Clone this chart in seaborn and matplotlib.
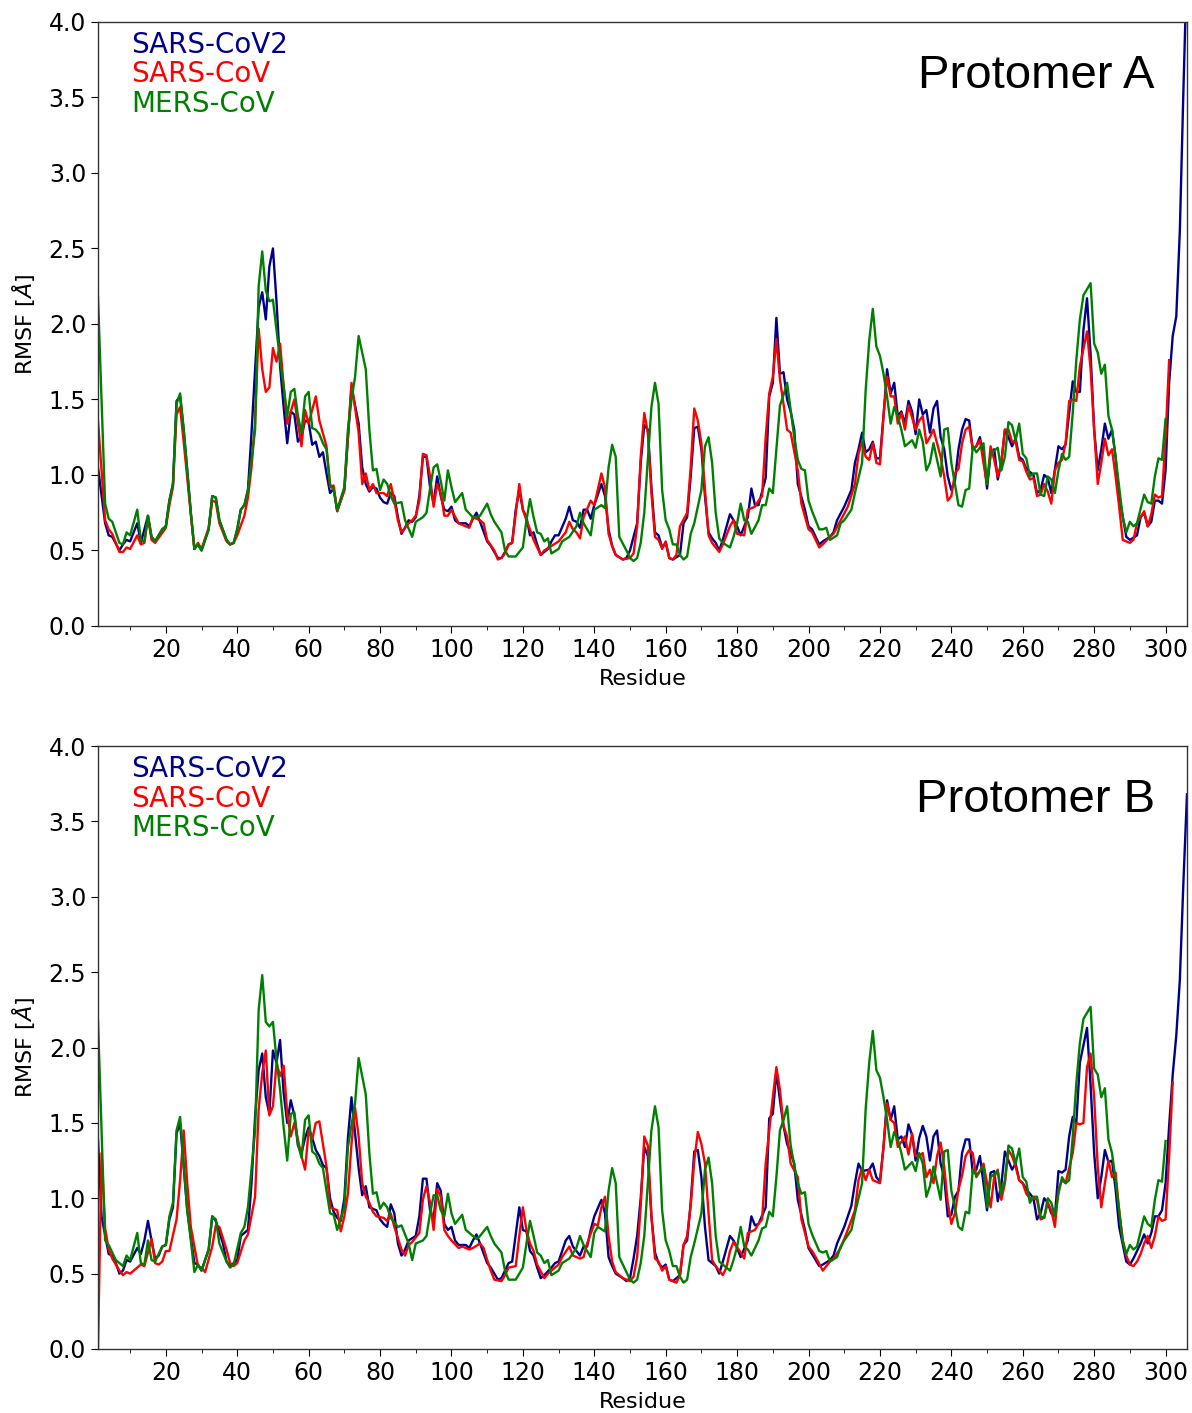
import matplotlib
matplotlib.use("Agg")
import matplotlib.pyplot as plt
import seaborn as sns
import pandas as pd
from matplotlib.ticker import MultipleLocator

SERIES = ["SARS-CoV2", "SARS-CoV", "MERS-CoV"]
COLORS = {"SARS-CoV2": "darkblue", "SARS-CoV": "red", "MERS-CoV": "green"}
PANEL_TITLES = ["Protomer A", "Protomer B"]
X_LABEL = "Residue"
Y_LABEL = r"RMSF [$\AA$]"
Y_TICKS = [0.0, 0.5, 1.0, 1.5, 2.0, 2.5, 3.0, 3.5, 4.0]

# ---- Protomer A : (residue, RMSF) ----
A_SARS_CoV2 = [(1,1.05),(3,0.68),(4,0.60),(5,0.59),(7,0.50),(8,0.54),(9,0.57),(10,0.56),(12,0.68),(13,0.55),(15,0.73),(16,0.59),(17,0.56),(19,0.64),(20,0.66),(21,0.83),(22,0.94),(23,1.49),(24,1.52),(25,1.30),(26,1.03),(27,0.75),(28,0.51),(29,0.54),(30,0.50),(32,0.64),(33,0.86),(34,0.85),(35,0.70),(37,0.57),(38,0.54),(39,0.55),(40,0.64),(41,0.77),(42,0.80),(43,0.90),(44,1.28),(46,2.11),(47,2.21),(48,2.03),(49,2.38),(50,2.50),(51,2.15),(52,1.72),(53,1.45),(54,1.21),(55,1.42),(56,1.40),(57,1.22),(58,1.26),(59,1.36),(60,1.35),(61,1.20),(62,1.22),(63,1.12),(64,1.15),(65,1.01),(66,0.88),(67,0.91),(68,0.76),(70,0.90),(72,1.58),(74,1.34),(75,1.05),(76,0.94),(77,0.89),(78,0.92),(79,0.91),(80,0.85),(81,0.82),(82,0.81),(83,0.88),(84,0.86),(85,0.72),(86,0.61),(87,0.65),(88,0.70),(89,0.69),(90,0.72),(91,0.86),(92,1.12),(93,1.12),(94,0.92),(95,0.81),(96,0.99),(97,0.86),(98,0.77),(99,0.76),(100,0.79),(101,0.70),(102,0.68),(104,0.68),(105,0.66),(106,0.71),(107,0.75),(108,0.69),(110,0.56),(111,0.53),(113,0.45),(114,0.45),(115,0.49),(116,0.54),(117,0.55),(118,0.77),(119,0.90),(120,0.77),(121,0.72),(122,0.60),(123,0.62),(124,0.54),(125,0.47),(127,0.51),(128,0.56),(129,0.60),(130,0.60),(132,0.71),(133,0.79),(134,0.70),(135,0.69),(136,0.65),(137,0.77),(138,0.77),(139,0.71),(140,0.80),(142,0.94),(143,0.86),(144,0.64),(145,0.53),(146,0.47),(148,0.44),(149,0.45),(150,0.50),(152,0.68),(153,1.08),(154,1.33),(155,1.30),(156,0.92),(157,0.62),(158,0.60),(159,0.52),(160,0.55),(161,0.45),(162,0.44),(164,0.47),(165,0.68),(166,0.72),(167,0.99),(168,1.31),(169,1.32),(170,1.17),(171,0.86),(172,0.62),(173,0.58),(174,0.55),(175,0.50),(176,0.57),(178,0.74),(179,0.70),(180,0.66),(181,0.60),(183,0.72),(184,0.91),(185,0.80),(186,0.80),(188,0.98),(189,1.52),(190,1.61),(191,2.04),(192,1.67),(193,1.68),(194,1.50),(195,1.42),(196,1.30),(197,0.94),(199,0.77),(200,0.66),(201,0.64),(203,0.54),(204,0.56),(206,0.59),(207,0.62),(208,0.70),(210,0.79),(212,0.90),(213,1.08),(214,1.17),(215,1.28),(216,1.15),(217,1.17),(218,1.22),(219,1.11),(220,1.11),(221,1.39),(222,1.70),(223,1.54),(224,1.61),(225,1.39),(226,1.42),(227,1.34),(228,1.49),(229,1.42),(230,1.27),(231,1.50),(232,1.40),(233,1.43),(234,1.28),(235,1.44),(236,1.49),(237,1.25),(238,1.17),(239,0.99),(240,0.90),(241,0.96),(242,1.17),(243,1.30),(244,1.37),(245,1.36),(246,1.17),(247,1.19),(248,1.25),(249,1.12),(250,0.91),(251,1.14),(252,1.17),(253,0.97),(254,1.08),(255,1.30),(256,1.25),(257,1.19),(258,1.24),(259,1.12),(260,1.10),(261,1.04),(262,1.02),(263,1.00),(264,0.88),(265,0.90),(266,1.00),(267,0.98),(268,0.88),(270,1.19),(271,1.17),(272,1.20),(273,1.41),(274,1.62),(275,1.55),(276,1.55),(277,1.96),(278,2.17),(279,1.80),(280,1.30),(281,1.03),(282,1.17),(283,1.34),(284,1.24),(285,1.30),(286,1.12),(287,0.86),(289,0.59),(290,0.57),(292,0.60),(293,0.72),(294,0.75),(295,0.66),(296,0.69),(297,0.83),(298,0.83),(299,0.81),(300,1.03),(301,1.61),(302,1.92),(303,2.05),(304,2.62),(305,3.55),(306,4.40)]

A_SARS_CoV = [(1,1.36),(3,0.70),(4,0.64),(5,0.61),(7,0.49),(8,0.49),(9,0.52),(10,0.51),(12,0.60),(13,0.54),(14,0.55),(15,0.72),(16,0.57),(17,0.55),(20,0.65),(21,0.80),(22,0.92),(23,1.40),(24,1.45),(25,1.22),(26,0.98),(27,0.74),(28,0.51),(29,0.55),(30,0.51),(32,0.65),(33,0.83),(34,0.82),(35,0.68),(37,0.56),(38,0.54),(39,0.55),(40,0.60),(42,0.73),(43,0.85),(44,1.05),(45,1.35),(46,1.97),(47,1.70),(48,1.55),(49,1.58),(50,1.84),(51,1.75),(52,1.87),(53,1.59),(54,1.34),(56,1.50),(57,1.34),(58,1.19),(59,1.43),(60,1.34),(62,1.52),(63,1.36),(65,1.19),(66,0.92),(67,0.93),(68,0.76),(70,0.90),(72,1.61),(74,1.28),(75,0.94),(76,1.01),(77,0.90),(78,0.94),(79,0.88),(81,0.88),(82,0.86),(83,0.94),(84,0.83),(85,0.70),(86,0.62),(88,0.68),(89,0.70),(90,0.73),(91,0.83),(92,1.14),(93,1.13),(94,0.99),(95,0.79),(96,0.94),(97,0.88),(98,0.73),(99,0.73),(100,0.77),(102,0.68),(103,0.67),(104,0.66),(105,0.65),(106,0.72),(108,0.70),(109,0.68),(110,0.57),(112,0.50),(113,0.44),(114,0.45),(115,0.48),(116,0.54),(117,0.55),(119,0.94),(120,0.77),(121,0.70),(122,0.64),(123,0.57),(125,0.47),(126,0.50),(128,0.53),(130,0.56),(132,0.62),(133,0.69),(134,0.64),(135,0.62),(136,0.58),(137,0.72),(139,0.83),(140,0.80),(142,1.01),(143,0.92),(144,0.61),(145,0.53),(146,0.47),(148,0.44),(150,0.45),(151,0.48),(152,0.66),(153,1.12),(154,1.41),(155,1.28),(156,0.88),(157,0.59),(158,0.57),(159,0.51),(160,0.56),(161,0.45),(162,0.44),(163,0.47),(164,0.66),(166,0.75),(167,1.05),(168,1.44),(169,1.36),(170,1.21),(171,0.90),(172,0.60),(173,0.55),(175,0.49),(176,0.54),(178,0.66),(179,0.70),(180,0.61),(182,0.60),(183,0.77),(185,0.79),(186,0.83),(187,0.86),(188,1.25),(189,1.54),(190,1.65),(191,1.90),(192,1.63),(193,1.47),(194,1.30),(195,1.28),(197,1.03),(198,0.81),(200,0.64),(201,0.62),(203,0.52),(204,0.54),(206,0.59),(207,0.61),(209,0.70),(211,0.79),(213,0.94),(214,1.14),(215,1.22),(216,1.12),(217,1.10),(218,1.21),(219,1.08),(220,1.07),(221,1.39),(222,1.65),(223,1.52),(224,1.52),(225,1.34),(226,1.41),(227,1.30),(228,1.46),(230,1.30),(231,1.36),(232,1.39),(233,1.21),(234,1.25),(235,1.30),(236,1.21),(237,1.12),(238,0.99),(239,0.83),(240,0.86),(241,1.01),(242,1.04),(243,1.21),(244,1.30),(245,1.32),(246,1.17),(247,1.19),(248,1.23),(249,1.08),(250,0.94),(251,1.19),(252,1.10),(253,0.99),(254,1.08),(255,1.30),(256,1.30),(257,1.22),(258,1.22),(259,1.10),(260,1.09),(261,1.02),(262,0.97),(263,0.98),(264,0.86),(265,0.87),(266,0.94),(267,0.89),(268,0.81),(269,1.03),(270,1.08),(271,1.10),(272,1.21),(273,1.49),(274,1.50),(275,1.49),(276,1.72),(278,1.95),(279,1.70),(280,1.30),(281,0.94),(282,1.08),(283,1.24),(284,1.13),(285,1.17),(286,0.99),(287,0.79),(288,0.57),(290,0.55),(291,0.57),(292,0.68),(294,0.76),(295,0.66),(296,0.74),(297,0.87),(298,0.85),(299,0.86),(300,1.25),(301,1.76)]

A_MERS_CoV = [(1,2.18),(3,0.81),(4,0.71),(5,0.69),(7,0.55),(8,0.54),(9,0.62),(10,0.60),(12,0.77),(13,0.57),(14,0.56),(15,0.73),(16,0.59),(17,0.56),(19,0.64),(20,0.66),(21,0.83),(22,0.94),(23,1.47),(24,1.54),(25,1.30),(26,1.03),(27,0.75),(28,0.51),(29,0.54),(30,0.50),(32,0.64),(33,0.86),(34,0.85),(35,0.70),(37,0.57),(38,0.54),(39,0.55),(40,0.64),(41,0.77),(42,0.80),(43,0.90),(45,1.30),(46,2.25),(47,2.48),(48,2.22),(49,2.15),(50,2.16),(51,1.96),(52,1.76),(53,1.59),(54,1.39),(55,1.55),(56,1.57),(57,1.39),(58,1.28),(59,1.52),(60,1.55),(61,1.31),(62,1.30),(63,1.27),(64,1.21),(65,1.17),(66,0.94),(67,0.90),(68,0.77),(70,0.92),(71,1.30),(72,1.50),(73,1.65),(74,1.92),(76,1.70),(77,1.30),(78,1.03),(79,1.04),(80,0.90),(81,0.97),(82,0.94),(83,0.86),(84,0.81),(86,0.82),(87,0.70),(89,0.59),(90,0.69),(92,0.72),(93,0.75),(94,0.91),(95,1.05),(96,1.07),(97,0.96),(98,0.83),(99,1.03),(100,0.92),(101,0.82),(102,0.85),(103,0.88),(104,0.77),(106,0.72),(107,0.72),(108,0.73),(110,0.81),(111,0.74),(112,0.69),(114,0.62),(115,0.50),(116,0.46),(118,0.46),(120,0.52),(121,0.70),(122,0.84),(123,0.72),(124,0.62),(125,0.61),(126,0.56),(127,0.58),(128,0.48),(130,0.51),(131,0.56),(133,0.59),(135,0.66),(136,0.75),(137,0.68),(139,0.60),(140,0.77),(142,0.80),(143,0.78),(144,1.05),(145,1.20),(146,1.12),(147,0.59),(149,0.50),(150,0.45),(151,0.43),(152,0.45),(153,0.55),(154,0.75),(156,1.45),(157,1.61),(158,1.47),(159,0.90),(160,0.70),(161,0.64),(162,0.54),(163,0.54),(164,0.47),(165,0.44),(166,0.46),(167,0.61),(168,0.68),(170,0.90),(171,1.19),(172,1.25),(173,1.08),(174,0.75),(175,0.58),(176,0.55),(178,0.52),(179,0.59),(180,0.68),(181,0.81),(182,0.70),(183,0.69),(184,0.61),(186,0.70),(187,0.80),(188,0.80),(189,0.91),(190,0.88),(191,1.17),(192,1.46),(193,1.53),(194,1.61),(195,1.43),(196,1.25),(197,1.10),(198,1.04),(199,1.03),(200,0.83),(201,0.76),(203,0.64),(204,0.64),(205,0.65),(206,0.57),(208,0.60),(209,0.68),(210,0.70),(212,0.77),(213,0.88),(215,1.08),(216,1.56),(217,1.89),(218,2.10),(219,1.85),(220,1.79),(221,1.67),(222,1.52),(223,1.34),(224,1.45),(225,1.39),(226,1.30),(227,1.19),(229,1.23),(230,1.18),(231,1.30),(232,1.22),(233,1.03),(234,1.08),(235,1.21),(236,1.10),(237,0.99),(238,1.30),(239,1.31),(240,1.08),(241,0.94),(242,0.80),(243,0.79),(244,0.90),(245,0.91),(246,1.19),(247,1.15),(249,1.21),(250,0.94),(251,1.14),(253,1.18),(254,1.03),(255,1.12),(256,1.35),(257,1.33),(258,1.23),(259,1.34),(260,1.14),(261,1.11),(262,0.99),(263,1.01),(264,1.01),(265,0.87),(266,0.86),(267,0.99),(268,0.97),(269,0.88),(270,1.03),(271,1.14),(272,1.10),(273,1.12),(274,1.41),(275,1.76),(276,2.03),(277,2.19),(279,2.27),(280,1.87),(281,1.81),(282,1.67),(283,1.73),(284,1.39),(285,1.30),(286,1.12),(287,0.92),(288,0.72),(289,0.62),(290,0.69),(291,0.66),(292,0.68),(294,0.87),(295,0.82),(296,0.81),(297,0.99),(298,1.11),(299,1.10),(300,1.37)]

# ---- Protomer B : (residue, RMSF) ----
B_SARS_CoV2 = [(1,1.39),(2,0.88),(4,0.63),(5,0.62),(6,0.57),(7,0.50),(8,0.52),(9,0.59),(10,0.58),(12,0.67),(13,0.63),(14,0.72),(15,0.85),(16,0.72),(17,0.60),(18,0.62),(19,0.68),(20,0.69),(21,0.86),(22,0.94),(23,1.43),(24,1.50),(25,1.21),(26,0.92),(28,0.57),(29,0.56),(30,0.52),(32,0.66),(33,0.88),(34,0.85),(36,0.70),(37,0.58),(38,0.55),(40,0.59),(41,0.75),(43,0.79),(44,1.10),(45,1.54),(46,1.85),(47,1.96),(48,1.67),(49,1.56),(50,1.98),(51,1.90),(52,2.05),(53,1.70),(54,1.50),(55,1.65),(56,1.55),(57,1.35),(58,1.30),(59,1.40),(60,1.47),(61,1.40),(62,1.32),(63,1.28),(64,1.22),(65,1.20),(66,1.00),(67,0.91),(68,0.87),(69,0.85),(70,1.00),(71,1.40),(72,1.67),(73,1.43),(74,1.20),(75,1.02),(76,1.08),(77,0.94),(78,0.93),(79,0.92),(80,0.86),(81,0.83),(82,0.81),(83,0.96),(84,0.90),(85,0.70),(86,0.62),(87,0.66),(88,0.72),(90,0.75),(91,0.88),(92,1.13),(93,1.13),(94,0.92),(95,0.86),(96,1.10),(97,1.05),(98,0.83),(99,0.79),(100,0.81),(101,0.72),(102,0.69),(104,0.69),(105,0.67),(106,0.72),(107,0.76),(108,0.70),(110,0.57),(111,0.54),(113,0.46),(114,0.47),(115,0.52),(116,0.57),(117,0.58),(119,0.94),(120,0.79),(121,0.78),(122,0.65),(123,0.62),(124,0.54),(125,0.47),(126,0.49),(128,0.54),(129,0.57),(130,0.58),(132,0.72),(133,0.75),(134,0.68),(135,0.65),(136,0.62),(137,0.68),(138,0.68),(139,0.79),(140,0.88),(142,0.99),(143,0.90),(144,0.61),(145,0.55),(146,0.50),(148,0.47),(149,0.45),(150,0.47),(151,0.60),(152,0.75),(153,1.00),(154,1.34),(155,1.28),(156,0.88),(157,0.64),(158,0.57),(159,0.54),(160,0.56),(161,0.46),(162,0.45),(164,0.49),(165,0.69),(166,0.72),(167,0.97),(168,1.31),(169,1.32),(170,1.14),(171,0.81),(172,0.59),(173,0.57),(174,0.55),(175,0.50),(176,0.58),(178,0.75),(179,0.72),(180,0.67),(181,0.61),(183,0.72),(184,0.88),(185,0.82),(186,0.83),(188,0.94),(189,1.53),(190,1.56),(191,1.84),(192,1.65),(193,1.48),(194,1.36),(195,1.30),(196,1.23),(197,0.99),(199,0.79),(200,0.67),(201,0.63),(203,0.55),(204,0.56),(206,0.59),(207,0.62),(208,0.70),(210,0.81),(212,0.95),(213,1.10),(214,1.23),(215,1.18),(217,1.19),(218,1.23),(219,1.14),(220,1.11),(221,1.34),(222,1.65),(223,1.52),(224,1.61),(225,1.39),(226,1.41),(227,1.34),(228,1.49),(229,1.42),(230,1.25),(231,1.40),(232,1.48),(233,1.41),(234,1.25),(235,1.41),(236,1.45),(237,1.23),(238,1.14),(239,0.88),(240,0.89),(241,1.01),(242,1.05),(243,1.30),(244,1.39),(245,1.39),(246,1.17),(247,1.19),(248,1.28),(249,1.10),(250,0.92),(251,1.17),(252,1.18),(253,0.98),(254,1.09),(255,1.31),(256,1.25),(257,1.19),(258,1.23),(259,1.12),(260,1.10),(261,1.06),(262,1.03),(263,1.00),(264,0.86),(265,0.90),(266,1.00),(267,0.97),(268,0.90),(269,0.88),(270,1.18),(271,1.17),(272,1.19),(273,1.41),(274,1.54),(275,1.50),(276,1.90),(278,2.13),(279,1.75),(280,1.30),(281,1.00),(282,1.14),(283,1.32),(284,1.24),(285,1.25),(286,1.06),(287,0.81),(289,0.58),(290,0.56),(291,0.60),(293,0.70),(294,0.76),(295,0.70),(296,0.77),(297,0.88),(298,0.88),(299,0.92),(300,1.10),(301,1.48),(302,1.82),(303,2.08),(304,2.45),(305,3.10),(306,3.68)]

B_SARS_CoV = [(1,0.00),(2,1.30),(3,0.80),(4,0.66),(5,0.60),(7,0.52),(8,0.49),(9,0.51),(10,0.50),(12,0.54),(13,0.56),(14,0.55),(16,0.73),(17,0.57),(18,0.56),(19,0.58),(20,0.65),(21,0.65),(23,0.86),(24,1.12),(25,1.45),(26,1.10),(27,0.81),(29,0.55),(30,0.54),(31,0.51),(33,0.68),(34,0.82),(35,0.81),(37,0.66),(38,0.57),(39,0.55),(40,0.57),(42,0.72),(43,0.76),(45,1.01),(46,1.59),(47,1.83),(48,1.98),(49,1.55),(50,1.61),(51,1.90),(52,1.81),(53,1.88),(54,1.56),(55,1.41),(56,1.50),(58,1.28),(59,1.19),(60,1.45),(61,1.39),(62,1.50),(63,1.51),(64,1.36),(65,1.21),(66,0.94),(68,0.92),(69,0.78),(70,0.88),(71,1.03),(72,1.36),(73,1.60),(74,1.41),(75,1.10),(76,1.01),(77,0.97),(78,0.91),(79,0.88),(81,0.87),(82,0.85),(83,0.90),(84,0.81),(86,0.66),(87,0.62),(88,0.69),(89,0.71),(91,0.77),(92,0.99),(93,1.08),(94,0.97),(95,0.79),(96,1.06),(97,1.01),(98,0.79),(99,0.75),(100,0.72),(102,0.67),(103,0.68),(105,0.66),(106,0.67),(108,0.70),(109,0.67),(110,0.59),(111,0.52),(112,0.46),(114,0.45),(115,0.49),(116,0.54),(118,0.55),(119,0.75),(120,0.94),(121,0.79),(122,0.70),(123,0.65),(124,0.56),(126,0.47),(127,0.50),(129,0.54),(130,0.56),(131,0.61),(133,0.68),(134,0.62),(136,0.60),(137,0.61),(138,0.70),(140,0.83),(141,0.82),(142,0.94),(143,1.01),(144,0.75),(145,0.58),(146,0.51),(148,0.47),(150,0.45),(151,0.48),(152,0.61),(153,0.95),(154,1.41),(155,1.35),(156,0.88),(157,0.60),(158,0.58),(159,0.52),(160,0.55),(161,0.46),(163,0.44),(164,0.49),(165,0.69),(166,0.75),(167,0.95),(168,1.25),(169,1.44),(170,1.36),(171,1.23),(172,0.90),(173,0.59),(174,0.55),(176,0.49),(177,0.54),(178,0.65),(179,0.71),(181,0.64),(182,0.60),(183,0.77),(185,0.79),(186,0.83),(187,0.86),(188,1.23),(189,1.45),(190,1.67),(191,1.87),(192,1.72),(193,1.48),(194,1.41),(195,1.23),(197,1.14),(198,0.86),(200,0.68),(201,0.65),(202,0.61),(204,0.52),(206,0.58),(207,0.60),(209,0.67),(211,0.79),(213,0.92),(214,1.12),(215,1.20),(216,1.12),(217,1.19),(218,1.12),(220,1.10),(221,1.34),(222,1.63),(223,1.52),(224,1.50),(225,1.34),(227,1.41),(228,1.29),(229,1.43),(230,1.28),(231,1.28),(232,1.30),(233,1.14),(234,1.19),(235,1.10),(236,1.28),(237,1.37),(238,1.21),(239,0.97),(240,0.83),(241,0.90),(242,1.06),(243,1.15),(244,1.28),(245,1.32),(246,1.30),(247,1.14),(248,1.18),(249,1.23),(250,1.10),(251,0.94),(252,1.14),(253,1.19),(254,0.99),(255,1.10),(256,1.32),(257,1.28),(258,1.21),(259,1.12),(260,1.10),(261,1.03),(262,1.00),(263,1.00),(264,0.99),(265,0.86),(266,0.87),(267,0.97),(268,0.92),(269,0.81),(270,1.06),(271,1.12),(272,1.10),(274,1.30),(275,1.50),(276,1.49),(277,1.50),(278,1.87),(279,1.96),(280,1.67),(281,1.21),(282,0.94),(283,1.10),(284,1.25),(285,1.14),(286,1.17),(287,0.92),(288,0.72),(289,0.62),(290,0.56),(291,0.55),(292,0.58),(293,0.63),(294,0.70),(295,0.75),(296,0.67),(297,0.75),(298,0.88),(299,0.85),(300,0.86),(301,1.28),(302,1.77)]

B_MERS_CoV = [(1,2.18),(3,0.72),(4,0.69),(6,0.59),(8,0.55),(9,0.62),(10,0.59),(12,0.77),(13,0.57),(14,0.56),(15,0.72),(16,0.59),(17,0.58),(19,0.68),(20,0.69),(21,0.88),(22,0.97),(23,1.45),(24,1.54),(25,1.23),(26,0.92),(27,0.72),(28,0.51),(29,0.56),(30,0.52),(32,0.66),(33,0.88),(34,0.86),(35,0.70),(37,0.58),(38,0.54),(39,0.56),(41,0.77),(42,0.81),(43,0.94),(45,1.45),(46,2.25),(47,2.48),(48,2.17),(49,2.14),(50,2.17),(51,1.92),(52,1.72),(53,1.47),(54,1.25),(55,1.56),(56,1.57),(57,1.36),(58,1.27),(59,1.52),(60,1.55),(61,1.31),(62,1.29),(63,1.23),(64,1.20),(65,1.05),(66,0.90),(67,0.89),(68,0.79),(70,0.94),(71,1.34),(73,1.63),(74,1.93),(76,1.69),(77,1.30),(78,1.03),(79,1.04),(80,0.93),(81,0.97),(82,0.94),(83,0.87),(85,0.81),(86,0.82),(88,0.70),(89,0.59),(90,0.70),(92,0.72),(93,0.75),(94,0.90),(95,1.02),(96,1.02),(97,0.92),(98,0.88),(99,1.03),(100,0.90),(101,0.83),(102,0.86),(103,0.89),(104,0.79),(106,0.75),(107,0.73),(108,0.75),(110,0.81),(111,0.75),(112,0.70),(114,0.64),(115,0.52),(116,0.46),(118,0.46),(120,0.54),(121,0.70),(122,0.85),(123,0.75),(124,0.64),(125,0.62),(126,0.57),(127,0.59),(128,0.49),(130,0.52),(131,0.57),(133,0.60),(135,0.67),(136,0.75),(137,0.69),(139,0.61),(140,0.77),(141,0.81),(143,0.78),(144,1.05),(145,1.20),(146,1.10),(147,0.61),(149,0.51),(150,0.46),(151,0.44),(152,0.46),(153,0.57),(154,0.75),(156,1.45),(157,1.61),(158,1.47),(159,0.92),(160,0.72),(161,0.65),(162,0.55),(163,0.55),(164,0.48),(165,0.44),(166,0.46),(167,0.61),(168,0.70),(170,0.90),(171,1.19),(172,1.27),(173,1.10),(174,0.75),(175,0.58),(176,0.56),(178,0.52),(179,0.59),(180,0.68),(181,0.81),(182,0.68),(183,0.66),(184,0.62),(186,0.72),(187,0.80),(188,0.81),(189,0.91),(190,0.88),(191,1.14),(192,1.45),(193,1.52),(194,1.61),(195,1.35),(196,1.22),(197,1.10),(198,1.03),(199,1.04),(200,0.83),(201,0.76),(203,0.65),(204,0.64),(205,0.65),(206,0.58),(208,0.61),(209,0.68),(210,0.72),(212,0.79),(213,0.90),(215,1.10),(216,1.59),(217,1.90),(218,2.11),(219,1.85),(220,1.80),(221,1.67),(222,1.52),(223,1.34),(224,1.44),(225,1.39),(226,1.30),(227,1.19),(229,1.24),(230,1.18),(231,1.30),(232,1.23),(233,1.01),(234,1.08),(235,1.21),(236,1.10),(237,0.99),(238,1.31),(239,1.32),(240,1.05),(241,0.94),(242,0.81),(243,0.79),(244,0.91),(245,0.90),(246,1.19),(247,1.15),(249,1.21),(250,0.94),(251,1.14),(253,1.18),(254,1.03),(255,1.12),(256,1.35),(257,1.33),(258,1.23),(259,1.33),(260,1.14),(261,1.11),(262,0.97),(263,1.01),(264,1.01),(265,0.88),(266,0.87),(267,1.00),(268,0.97),(269,0.88),(270,1.03),(271,1.14),(272,1.10),(273,1.12),(274,1.41),(275,1.76),(276,2.03),(277,2.19),(279,2.27),(280,1.86),(281,1.82),(282,1.67),(283,1.73),(284,1.39),(285,1.30),(286,1.12),(287,0.92),(288,0.72),(289,0.63),(290,0.69),(291,0.66),(292,0.68),(294,0.88),(295,0.83),(296,0.81),(297,0.99),(298,1.12),(299,1.11),(300,1.38)]

PANELS = [
    {"SARS-CoV2": A_SARS_CoV2, "SARS-CoV": A_SARS_CoV, "MERS-CoV": A_MERS_CoV},
    {"SARS-CoV2": B_SARS_CoV2, "SARS-CoV": B_SARS_CoV, "MERS-CoV": B_MERS_CoV},
]


def to_frame(panel):
    rows = []
    for name in SERIES:
        for r, v in panel[name]:
            rows.append((name, r, v))
    return pd.DataFrame(rows, columns=["series", "Residue", "RMSF"])


fig = plt.figure(figsize=(11.92, 14.13), dpi=100)
rects = [[0.0822, 0.5570, 0.9136, 0.4275], [0.0822, 0.0453, 0.9136, 0.4267]]

for rect, panel, title in zip(rects, PANELS, PANEL_TITLES):
    ax = fig.add_axes(rect)
    df = to_frame(panel)
    sns.lineplot(data=df, x="Residue", y="RMSF", hue="series", hue_order=SERIES,
                 palette=COLORS, estimator=None, linewidth=1.7, ax=ax, legend=False)
    ax.set_xlim(1, 306)
    ax.set_ylim(0, 4)
    ax.set_yticks(Y_TICKS)
    ax.yaxis.set_major_formatter(matplotlib.ticker.FormatStrFormatter("%.1f"))
    ax.xaxis.set_major_locator(MultipleLocator(20))
    ax.xaxis.set_minor_locator(MultipleLocator(10))
    ax.tick_params(axis="both", which="major", labelsize=17, length=5)
    ax.tick_params(axis="x", which="minor", length=3)
    ax.set_xlabel(X_LABEL, fontsize=16, labelpad=5)
    ax.set_ylabel(Y_LABEL, fontsize=16, labelpad=8)
    for s in ax.spines.values():
        s.set_linewidth(1.0)
        s.set_color("#333333")
    # legend as coloured text
    for i, name in enumerate(SERIES):
        ax.text(0.0303, 0.9487 - i * 0.0490, name, color=COLORS[name],
                fontsize=20, transform=ax.transAxes, ha="left", va="baseline")
    ax.text(0.9706, 0.8907, title, transform=ax.transAxes, ha="right", va="baseline",
            fontsize=34, family=["Liberation Sans", "DejaVu Sans"], color="black")

fig.savefig("out.png", dpi=100)
